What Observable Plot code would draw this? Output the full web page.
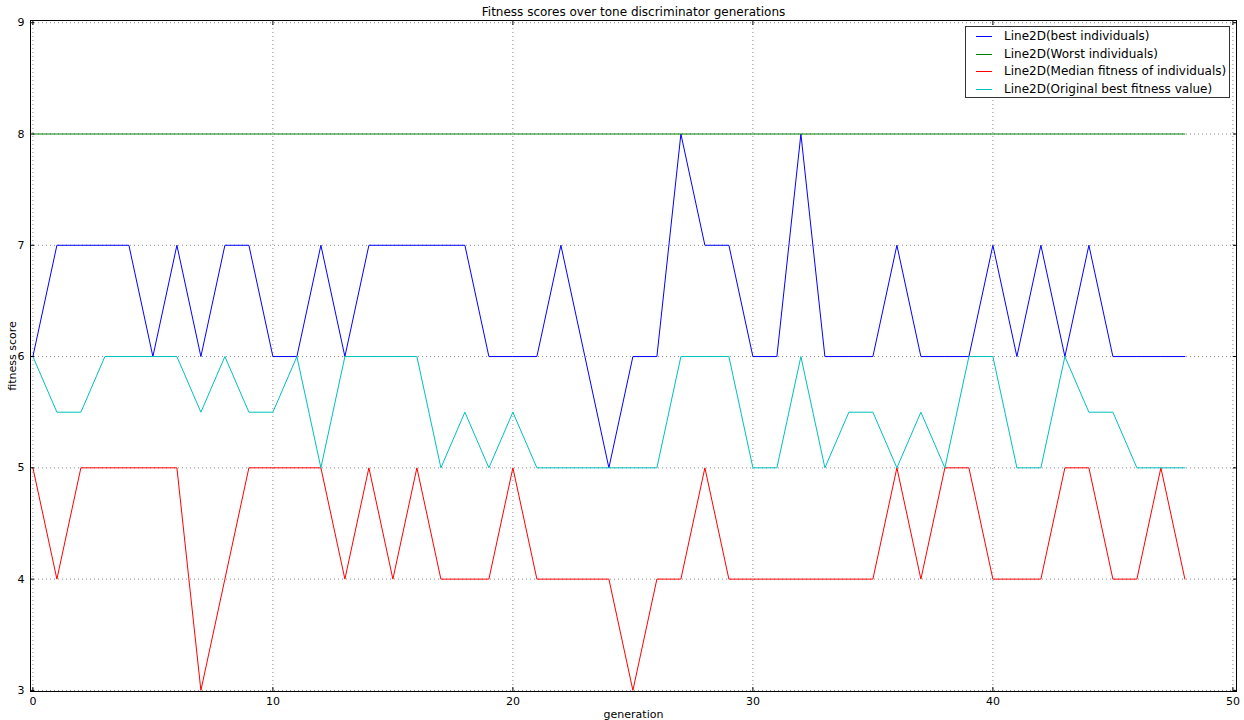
<!DOCTYPE html>
<html>
<head>
<meta charset="utf-8">
<script src="https://cdn.jsdelivr.net/npm/d3@7"></script>
<script src="https://cdn.jsdelivr.net/npm/@observablehq/plot@0.6"></script>
<style>
  html, body { margin: 0; padding: 0; background: #fff; }
  #wrap { position: relative; width: 1244px; height: 720px; font-family: "DejaVu Sans", sans-serif; }
  #legend { position: absolute; left: 965px; top: 26px; width: 265px; height: 72px; border: 1px solid #333; background: #fff; box-sizing: border-box; font-size: 12px; color: #000; }
  .row { position: absolute; left: 0; height: 17px; line-height: 17px; white-space: nowrap; }
  .sw { position: absolute; left: 10px; top: 8px; width: 16px; height: 1px; }
  .lb { position: absolute; left: 38px; top: 0; }
</style>
</head>
<body>
<div id="wrap"><div id="chart"></div><div id="legend"></div></div>
<script>
const generations = [0,1,2,3,4,5,6,7,8,9,10,11,12,13,14,15,16,17,18,19,20,21,22,23,24,25,26,27,28,29,30,31,32,33,34,35,36,37,38,39,40,41,42,43,44,45,46,47,48];
const bestIndividuals = [6,7,7,7,7, 6,7,6,7,7, 6,6,7,6,7, 7,7,7,7,6, 6,6,7,6,5, 6,6,8,7,7, 6,6,8,6,6, 6,7,6,6,6, 7,6,7,6,7, 6,6,6,6];
const worstIndividuals = [8,8,8,8,8, 8,8,8,8,8, 8,8,8,8,8, 8,8,8,8,8, 8,8,8,8,8, 8,8,8,8,8, 8,8,8,8,8, 8,8,8,8,8, 8,8,8,8,8, 8,8,8,8];
const medianFitness = [5,4,5,5,5, 5,5,3,4,5, 5,5,5,4,5, 4,5,4,4,4, 5,4,4,4,4, 3,4,4,5,4, 4,4,4,4,4, 4,5,4,5,5, 4,4,4,5,5, 4,4,5,4];
const originalBest = [6,5.5,5.5,6,6, 6,6,5.5,6,5.5, 5.5,6,5,6,6, 6,6,5,5.5,5, 5.5,5,5,5,5, 5,5,6,6,6, 5,5,6,5,5.5, 5.5,5,5.5,5,6, 6,5,5,6,5.5, 5.5,5,5,5];
const seriesNames = ["Line2D(best individuals)", "Line2D(Worst individuals)", "Line2D(Median fitness of individuals)", "Line2D(Original best fitness value)"];
const seriesColors = ["#0000ff", "#008000", "#ff0000", "#00bfbf"];
const xTicks = [0,10,20,30,40,50];
const yTicks = [3,4,5,6,7,8,9];
const title = "Fitness scores over tone discriminator generations";

const allSeries = [bestIndividuals, worstIndividuals, medianFitness, originalBest];
const rows = [];
allSeries.forEach((vals, s) => vals.forEach((v, i) => rows.push({series: seriesNames[s], gen: generations[i], value: v})));

const chart = Plot.plot({
  width: 1244,
  height: 720,
  marginLeft: 30,
  marginRight: 8,
  marginTop: 20,
  marginBottom: 29,
  style: {fontFamily: "'DejaVu Sans', sans-serif", fontSize: "11px", color: "#000", background: "#fff"},
  x: {domain: [-0.1, 50.15]},
  y: {domain: [2.99, 9.02]},
  color: {domain: seriesNames, range: seriesColors},
  marks: [
    Plot.gridX(xTicks, {stroke: "#000", strokeOpacity: 0.45, strokeDasharray: "1,3"}),
    Plot.gridY(yTicks, {stroke: "#000", strokeOpacity: 0.45, strokeDasharray: "1,3"}),
    Plot.line(rows, {x: "gen", y: "value", z: "series", stroke: "series", strokeWidth: 1}),
    Plot.axisX(xTicks, {tickSize: -4, tickPadding: 10, tickFormat: d => String(d), label: "generation", labelAnchor: "center", labelArrow: "none", labelOffset: 26, fontSize: 11}),
    Plot.axisX(xTicks, {anchor: "top", tickSize: -4, tickFormat: () => "", label: null}),
    Plot.axisY(yTicks, {tickSize: -4, tickPadding: 10, tickFormat: d => String(d), label: "fitness score", labelAnchor: "center", labelArrow: "none", labelOffset: 22, fontSize: 11}),
    Plot.axisY(yTicks, {anchor: "right", tickSize: -4, tickFormat: () => "", label: null}),
    Plot.frame({stroke: "#000", strokeWidth: 1}),
    Plot.text([title], {frameAnchor: "top", lineAnchor: "middle", dy: -8, fontSize: 12, fill: "#000"})
  ]
});
document.getElementById("chart").appendChild(chart);

const legend = document.getElementById("legend");
seriesNames.forEach((name, i) => {
  const r = document.createElement("div");
  r.className = "row";
  r.style.top = (1 + i * 17.5) + "px";
  r.innerHTML = `<span class="sw" style="background-color:${seriesColors[i]}"></span><span class="lb">${name}</span>`;
  legend.appendChild(r);
});
</script>
</body>
</html>
